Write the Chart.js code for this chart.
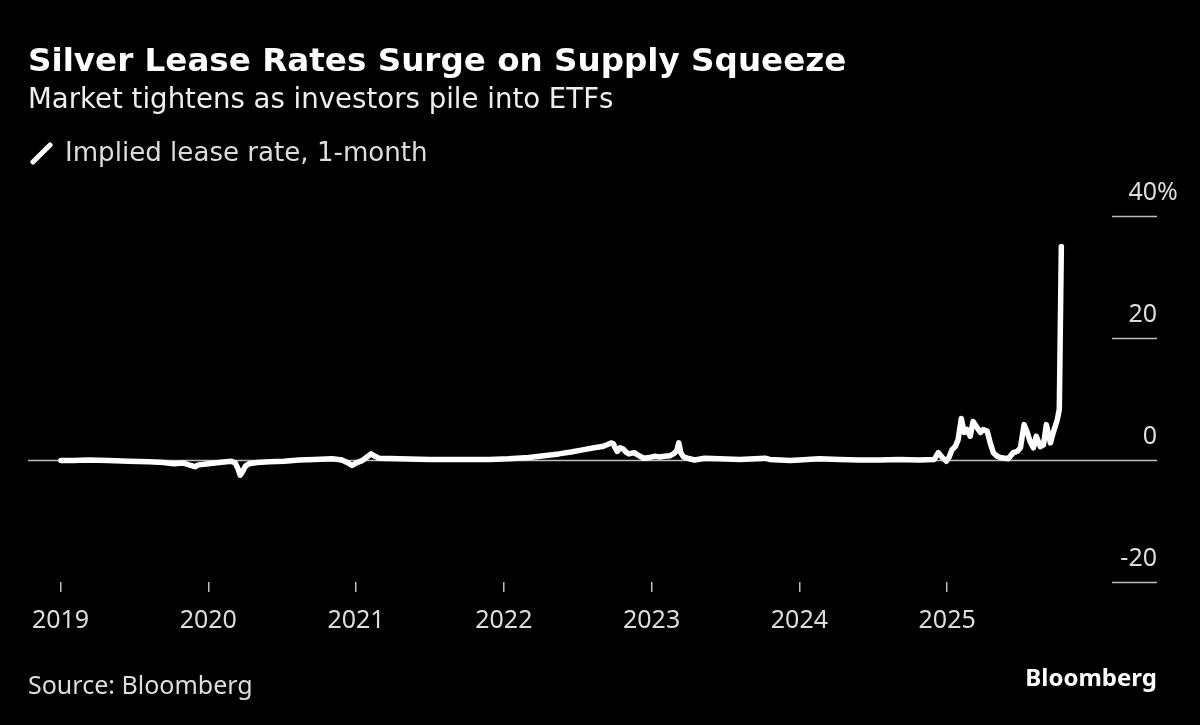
<!DOCTYPE html>
<html>
<head>
<meta charset="utf-8">
<script src="https://cdn.jsdelivr.net/npm/chart.js@4.4.1/dist/chart.umd.min.js"></script>
<style>
  html,body{margin:0;padding:0;background:#000;}
  body{width:1200px;height:725px;overflow:hidden;position:relative;font-family:"Noto Sans",sans-serif;}
  canvas{position:absolute;left:0;top:0;}
  .t{position:absolute;left:28px;line-height:1;white-space:nowrap;}
  #title{top:44px;font-family:"DejaVu Sans",sans-serif;font-size:32.6px;font-weight:bold;color:#fff;}
  #sub{top:85px;font-family:"DejaVu Sans",sans-serif;font-size:27.6px;color:#eee;}
  #leg{top:139px;left:65px;font-family:"DejaVu Sans",sans-serif;font-size:26.1px;color:#ddd;}
  #legIcon{position:absolute;left:27px;top:151px;width:29px;height:5px;background:#fff;border-radius:2px;transform:rotate(-45deg);}
  #src{top:672px;font-size:25px;color:#ddd;}
  #logo{position:absolute;right:43px;top:665px;font-size:24px;font-weight:bold;color:#fff;line-height:1;}
</style>
</head>
<body>
<canvas id="c" width="1200" height="725"></canvas>
<div class="t" id="title">Silver Lease Rates Surge on Supply Squeeze</div>
<div class="t" id="sub">Market tightens as investors pile into ETFs</div>
<div id="legIcon"></div>
<div class="t" id="leg">Implied lease rate, 1-month</div>
<div class="t" id="src">Source: Bloomberg</div>
<div id="logo">Bloomberg</div>
<script>
// ---- data ----
const dates = [
  "2019-01-02","2019-02-02","2019-03-11","2019-04-30","2019-06-18","2019-08-07","2019-09-13","2019-10-08",
  "2019-11-01","2019-11-19","2019-11-29","2019-12-08","2020-01-01","2020-01-28","2020-02-27","2020-03-08",
  "2020-03-15","2020-03-20","2020-03-25","2020-04-02","2020-04-11","2020-05-01","2020-05-31","2020-07-07",
  "2020-08-13","2020-09-19","2020-11-03","2020-11-27","2020-12-10","2020-12-22","2021-01-01","2021-01-16",
  "2021-01-28","2021-02-07","2021-02-17","2021-02-27","2021-04-17","2021-07-01","2021-09-13","2021-11-26",
  "2022-01-13","2022-03-04","2022-04-10","2022-05-17","2022-06-16","2022-07-18","2022-08-12","2022-09-01",
  "2022-09-13","2022-09-23","2022-09-28","2022-10-03","2022-10-08","2022-10-15","2022-10-23","2022-10-30",
  "2022-11-06","2022-11-19","2022-12-01","2022-12-13","2022-12-26","2023-01-08","2023-01-21","2023-02-02",
  "2023-02-15","2023-02-24","2023-03-04","2023-03-09","2023-03-14","2023-03-21","2023-04-05","2023-04-17",
  "2023-05-12","2023-06-18","2023-08-07","2023-10-08","2023-10-20","2023-12-09","2024-01-01","2024-02-19",
  "2024-04-09","2024-05-28","2024-07-17","2024-09-04","2024-10-24","2024-11-30","2024-12-10","2024-12-20",
  "2024-12-30","2025-01-06","2025-01-13","2025-01-21","2025-01-28","2025-02-05","2025-02-12","2025-02-19",
  "2025-02-27","2025-03-06","2025-03-14","2025-03-24","2025-03-31","2025-04-10","2025-04-17","2025-04-25",
  "2025-05-05","2025-05-12","2025-06-01","2025-06-13","2025-06-23","2025-07-01","2025-07-10","2025-07-18",
  "2025-07-25","2025-08-02","2025-08-09","2025-08-19","2025-08-27","2025-09-03","2025-09-13","2025-09-20",
  "2025-09-30","2025-10-05","2025-10-10"
];
const leaseRate = [
  -0.1,-0.1,0.0,-0.1,-0.2,-0.3,-0.4,-0.6,
  -0.5,-0.9,-1.1,-0.8,-0.6,-0.4,-0.2,-0.5,
  -1.5,-2.5,-2.0,-1.0,-0.6,-0.4,-0.3,-0.2,
  0.0,0.1,0.2,0.0,-0.4,-0.9,-0.5,-0.1,
  0.5,1.0,0.6,0.3,0.2,0.1,0.1,0.1,
  0.2,0.4,0.7,1.0,1.3,1.7,2.0,2.2,
  2.5,2.8,2.7,2.0,1.4,2.0,1.8,1.3,
  1.0,1.2,0.7,0.3,0.4,0.6,0.5,0.6,
  0.7,1.0,1.5,2.8,1.2,0.5,0.2,0.0,
  0.3,0.2,0.1,0.3,0.1,-0.1,0.0,0.2,
  0.1,0.0,0.0,0.1,0.0,0.1,1.2,0.4,
  -0.2,0.5,1.7,2.2,3.3,6.8,4.5,5.0,
  3.9,6.3,5.5,4.5,5.0,4.7,2.9,1.2,
  0.6,0.4,0.2,1.2,1.4,2.0,5.8,4.5,
  3.0,2.0,3.9,2.2,2.5,5.8,2.8,4.5,
  6.6,8.3,35.0
];
const yearTicks = [2019,2020,2021,2022,2023,2024,2025];
const yTicks = [-20,0,20,40];

function toYear(s){
  const [y,m,d] = s.split('-').map(Number);
  const t0 = Date.UTC(y,0,1), t1 = Date.UTC(y+1,0,1);
  return y + (Date.UTC(y,m-1,d) - t0) / (t1 - t0);
}
const points = dates.map((d,i)=>({x:toYear(d), y:leaseRate[i]}));

const yAxisPlugin = {
  id:'yaxisRight',
  beforeDatasetsDraw(chart){
    const {ctx, chartArea:a} = chart;
    const y = chart.scales.y;
    ctx.save();
    ctx.strokeStyle = '#bdbdbd';
    ctx.lineWidth = 1.5;
    yTicks.forEach(v=>{
      const py = Math.round(y.getPixelForValue(v)) + 0.5;
      ctx.beginPath();
      ctx.moveTo(v === 0 ? a.left : a.right - 45, py);
      ctx.lineTo(a.right, py);
      ctx.stroke();
    });
    ctx.fillStyle = '#ddd';
    ctx.font = '25px "Noto Sans"';
    ctx.textBaseline = 'alphabetic';
    yTicks.forEach((v,i)=>{
      const py = y.getPixelForValue(v);
      ctx.textAlign = 'right';
      ctx.fillText(String(v), a.right, py - 16);
      if (i === yTicks.length - 1){
        ctx.textAlign = 'left';
        ctx.fillText('%', a.right, py - 16);
      }
    });
    ctx.restore();
  }
};

new Chart(document.getElementById('c').getContext('2d'), {
  type:'line',
  data:{datasets:[{
    data:points, parsing:false,
    borderColor:'#fff', borderWidth:5.5, pointRadius:0, tension:0,
    borderJoinStyle:'round', borderCapStyle:'round', fill:false
  }]},
  options:{
    responsive:false, animation:false, events:[],
    layout:{padding:{left:28, right:43, top:216, bottom:93}},
    plugins:{legend:{display:false}, tooltip:{enabled:false}},
    scales:{
      x:{
        type:'linear', min:2018.78, max:2026.42,
        afterBuildTicks:s=>{ s.ticks = yearTicks.map(v=>({value:v})); },
        afterFit:s=>{ s.height = 50; },
        grid:{drawOnChartArea:false, drawTicks:true, tickLength:10, color:'#bdbdbd', lineWidth:1.5},
        border:{display:false},
        ticks:{color:'#ddd', font:{family:'Noto Sans', size:25}, padding:14, maxRotation:0, autoSkip:false,
               callback:v=>String(v)}
      },
      y:{display:false, min:-20, max:40}
    }
  },
  plugins:[yAxisPlugin]
});
</script>
</body>
</html>
